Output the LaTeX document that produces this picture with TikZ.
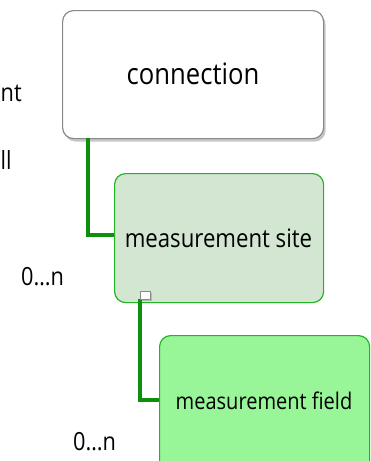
\documentclass[tikz,border=0pt]{standalone}
\usepackage{fontspec}
\setmainfont{Open Sans}[FakeStretch=0.87]
\usetikzlibrary{shadows}
\definecolor{conngreen}{HTML}{0E900E}
\definecolor{boxgreen}{HTML}{22B422}
\definecolor{sitefill}{HTML}{D2E6D2}
\definecolor{fieldfill}{HTML}{98F598}
\definecolor{boxgray}{HTML}{8A8A8A}
\begin{document}
\begin{tikzpicture}[x=1pt,y=-1pt,
  entity/.style={draw, rounded corners=11pt, line width=1.2pt, inner sep=0pt, anchor=north west},
  graybox/.style={entity, draw=boxgray, fill=white, drop shadow={shadow xshift=2pt, shadow yshift=-3pt, opacity=0.45}},
  greenbox/.style={entity, draw=boxgreen},
  conn/.style={draw=conngreen, line width=4pt},
  card/.style={font=\fontsize{25}{28}\selectfont, inner sep=0pt}
]
\useasboundingbox (0,0) rectangle (371,461);
\clip (0,0) rectangle (371,461);
% boxes
\node[graybox, minimum width=261pt, minimum height=128pt] (conn) at (62,10) {};
\node[font=\fontsize{29.5}{34}\selectfont] (conntext) at (193,74) {connection};
\node[greenbox, fill=sitefill, minimum width=209pt, minimum height=129pt] (site) at (114,173) {};
\node[font=\fontsize{25.5}{30}\selectfont] (sitetext) at (218.5,238) {measurement site};
\node[greenbox, fill=fieldfill, minimum width=210pt, minimum height=140pt] (field) at (159,335) {};
\node[font=\fontsize{23}{27}\selectfont] (fieldtext) at (264,401) {measurement field};
% connectors
\coordinate (c1) at (88,138);
\coordinate (c1b) at (88,235);
\coordinate (c2) at (140,299);
\coordinate (c2b) at (140,400);
\draw[conn] (c1) -- (c1b) -- (site.west |- c1b);
\draw[conn] (c2) -- (c2b) -- (field.west |- c2b);
% small square
\node[draw=boxgray, fill=white, line width=0.8pt, minimum width=10pt, minimum height=8pt, inner sep=0pt,
  drop shadow={shadow xshift=1.5pt, shadow yshift=-2pt, opacity=0.4}] (sq) at (145,295) {};
% cardinalities
\node[card, anchor=west] (card1) at (21,277) {0…n};
\node[card, anchor=west] (card2) at (73,442) {0…n};
% texts at left edge
\node[card, anchor=west] (cut1) at (0.5,93) {nt};
\node[card, anchor=west] (cut2) at (0.5,160) {ll};
\end{tikzpicture}
\end{document}
